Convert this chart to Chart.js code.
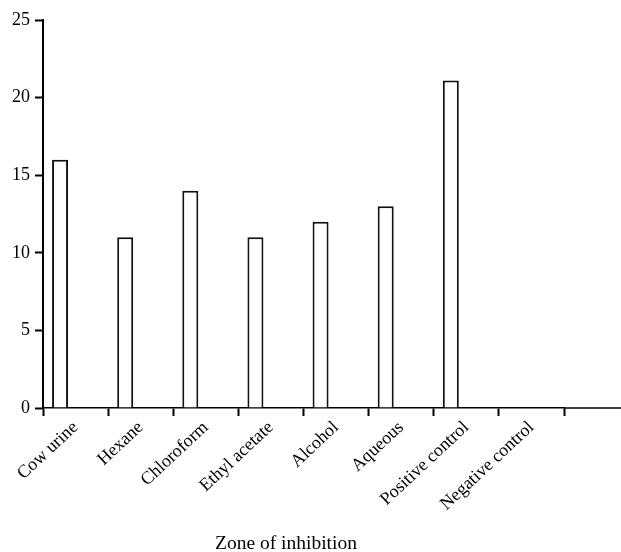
<!DOCTYPE html>
<html>
<head>
<meta charset="utf-8">
<script src="https://cdn.jsdelivr.net/npm/chart.js@4/dist/chart.umd.min.js"></script>
<style>
html,body{margin:0;padding:0;background:#fff;}
#wrap{width:621px;height:552px;}
</style>
</head>
<body>
<div id="wrap"><canvas id="c" width="621" height="552"></canvas></div>
<script>
const categories = ["Cow urine","Hexane","Chloroform","Ethyl acetate","Alcohol","Aqueous","Positive control","Negative control"];
const zoneValues = [16, 11, 14, 11, 12, 13, 21.1, 0];
const yTicks = [0, 5, 10, 15, 20, 25];
const xTitle = "Zone of inhibition";

const FONT = "'Liberation Serif', 'Times New Roman', serif";

const axisExtend = {
  id: 'axisExtend',
  afterDraw(chart) {
    const {ctx, chartArea} = chart;
    ctx.save();
    ctx.strokeStyle = '#000';
    ctx.lineWidth = 1.5;
    ctx.beginPath();
    ctx.moveTo(chartArea.right, chartArea.bottom);
    ctx.lineTo(chart.width, chartArea.bottom);
    ctx.stroke();
    ctx.restore();
  }
};

new Chart(document.getElementById('c'), {
  type: 'bar',
  data: {
    labels: categories,
    datasets: [
      {
        label: xTitle,
        data: zoneValues,
        backgroundColor: '#ffffff',
        borderColor: '#111111',
        borderWidth: 2,
        borderSkipped: 'start',
        categoryPercentage: 0.952,
        barPercentage: 0.516
      },
      {
        label: 'spacer',
        data: categories.map(() => null),
        backgroundColor: 'rgba(0,0,0,0)',
        borderWidth: 0,
        categoryPercentage: 0.952,
        barPercentage: 0.516
      }
    ]
  },
  options: {
    responsive: false,
    animation: false,
    layout: { padding: { top: 20, left: 8, right: 57, bottom: 0 } },
    plugins: {
      legend: { display: false },
      tooltip: { enabled: false },
      title: {
        display: true,
        text: xTitle,
        position: 'bottom',
        color: '#000',
        font: { family: FONT, size: 19.5, weight: 'normal', lineHeight: 0.85 },
        padding: { top: 0, bottom: 0 }
      }
    },
    scales: {
      x: {
        type: 'category',
        offset: true,
        grid: {
          offset: true,
          drawOnChartArea: false,
          drawTicks: true,
          tickLength: 8,
          tickWidth: 2,
          color: '#000'
        },
        border: { display: true, color: '#000', width: 1.5 },
        ticks: {
          color: '#000',
          font: { family: FONT, size: 18 },
          minRotation: 43,
          maxRotation: 43,
          autoSkip: false,
          padding: 1
        },
        afterFit(scale) { scale.height = 552 - 408 - 16.6; }
      },
      y: {
        min: 0,
        max: 25,
        afterBuildTicks(scale) { scale.ticks = yTicks.map(v => ({ value: v })); },
        grid: {
          drawOnChartArea: false,
          drawTicks: true,
          tickLength: 8,
          tickWidth: 2,
          color: '#000'
        },
        border: { display: true, color: '#000', width: 2 },
        ticks: {
          color: '#000',
          font: { family: FONT, size: 18 },
          padding: 5
        },
        afterFit(scale) { scale.width = 35; }
      }
    }
  },
  plugins: [axisExtend]
});
</script>
</body>
</html>
